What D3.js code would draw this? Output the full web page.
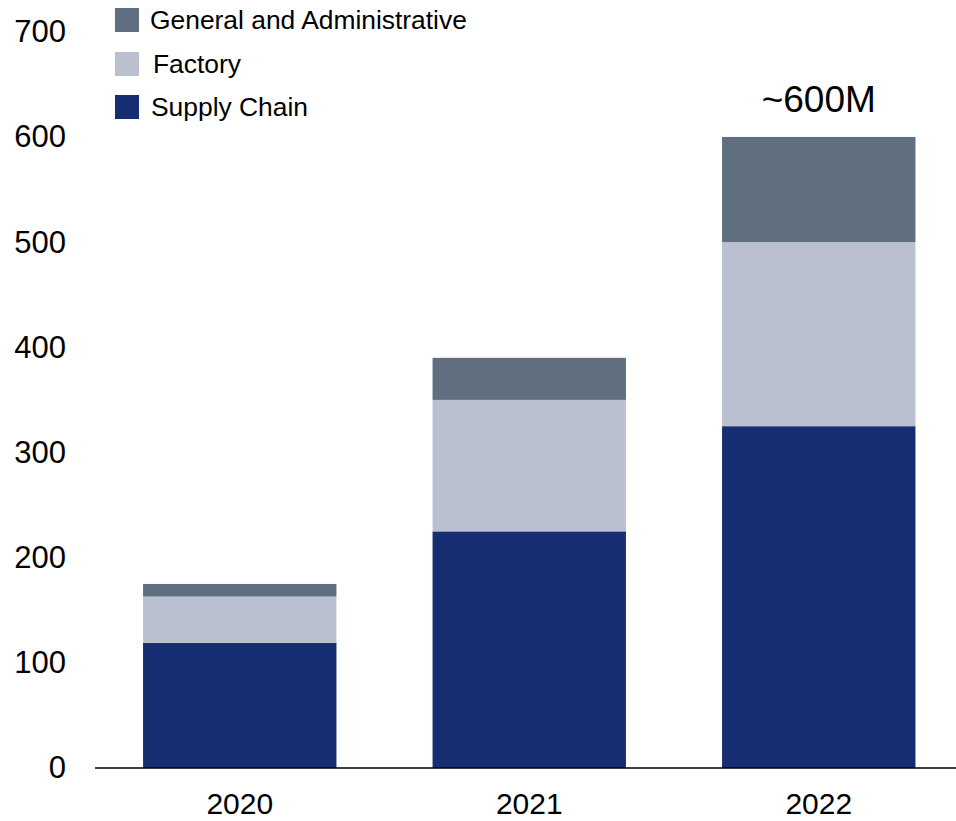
<!DOCTYPE html>
<html>
<head>
<meta charset="utf-8">
<script src="https://cdn.jsdelivr.net/npm/d3@7"></script>
<style>
  html, body { margin: 0; padding: 0; background: #fff; }
  svg { display: block; font-family: "Liberation Sans", Arial, sans-serif; }
</style>
</head>
<body>
<svg id="chart" width="956" height="821"></svg>
<script>
// Cost breakdown by year, stacked bottom to top
const years = ["2020", "2021", "2022"];
const supplyChain = [119, 225, 325];
const factory = [44, 125, 175];
const generalAdmin = [12, 40, 100];
const seriesNames = ["Supply Chain", "Factory", "General and Administrative"];
const seriesColors = ["#172d72", "#bac0d0", "#5f6f80"];
const yTicks = [0, 100, 200, 300, 400, 500, 600, 700];
const totalLabel = "~600M";

const rows = years.map((y, i) => ({
  year: y,
  "Supply Chain": supplyChain[i],
  "Factory": factory[i],
  "General and Administrative": generalAdmin[i]
}));

const svg = d3.select("#chart");

const y = d3.scaleLinear().domain([0, 700]).range([768, 31.8]);
const x = d3.scaleBand().domain(years).range([95, 963.5])
  .paddingInner(0.332).paddingOuter(0.166);
const color = d3.scaleOrdinal().domain(seriesNames).range(seriesColors);

const stacked = d3.stack().keys(seriesNames)(rows);

// bars
svg.append("g").selectAll("g")
  .data(stacked)
  .join("g")
  .attr("fill", d => color(d.key))
  .selectAll("rect")
  .data(d => d)
  .join("rect")
  .attr("x", d => x(d.data.year))
  .attr("width", x.bandwidth())
  .attr("y", d => y(d[1]))
  .attr("height", d => y(d[0]) - y(d[1]));

// y axis labels (no axis line, no tick marks)
const yAxis = svg.append("g")
  .attr("transform", "translate(66,0)")
  .call(d3.axisLeft(y).tickValues(yTicks).tickSize(0).tickPadding(0));
yAxis.select(".domain").remove();
yAxis.selectAll("text")
  .attr("font-size", 31)
  .attr("font-family", "Liberation Sans, Arial, sans-serif")
  .attr("fill", "#000");

// x axis baseline and year labels
const xAxis = svg.append("g")
  .attr("transform", "translate(0,768)")
  .call(d3.axisBottom(x).tickSize(0).tickPadding(0));
xAxis.select(".domain").remove();
xAxis.selectAll("text")
  .attr("y", 46)
  .attr("dy", 0)
  .attr("font-size", 30)
  .attr("font-family", "Liberation Sans, Arial, sans-serif")
  .attr("fill", "#000");
svg.append("line")
  .attr("x1", 95).attr("x2", 956)
  .attr("y1", 768).attr("y2", 768)
  .attr("stroke", "#000").attr("stroke-width", 1.6);

// total annotation above the last bar
const lastIdx = years.length - 1;
const lastTotal = supplyChain[lastIdx] + factory[lastIdx] + generalAdmin[lastIdx];
svg.append("text")
  .attr("x", x(years[lastIdx]) + x.bandwidth() / 2)
  .attr("y", y(lastTotal) - 25)
  .attr("text-anchor", "middle")
  .attr("font-size", 37)
  .attr("fill", "#000")
  .text(totalLabel);

// legend, top entry first
const legendItems = seriesNames.slice().reverse();
const legendTops = [8, 52, 95];
const legendTextX = [150, 153, 151];
const legend = svg.append("g");
legendItems.forEach((name, i) => {
  legend.append("rect")
    .attr("x", 115).attr("y", legendTops[i])
    .attr("width", 24).attr("height", 24)
    .attr("fill", color(name));
  legend.append("text")
    .attr("x", legendTextX[i])
    .attr("y", legendTops[i] + 21)
    .attr("font-size", 26.4)
    .attr("fill", "#000")
    .text(name);
});
</script>
</body>
</html>
